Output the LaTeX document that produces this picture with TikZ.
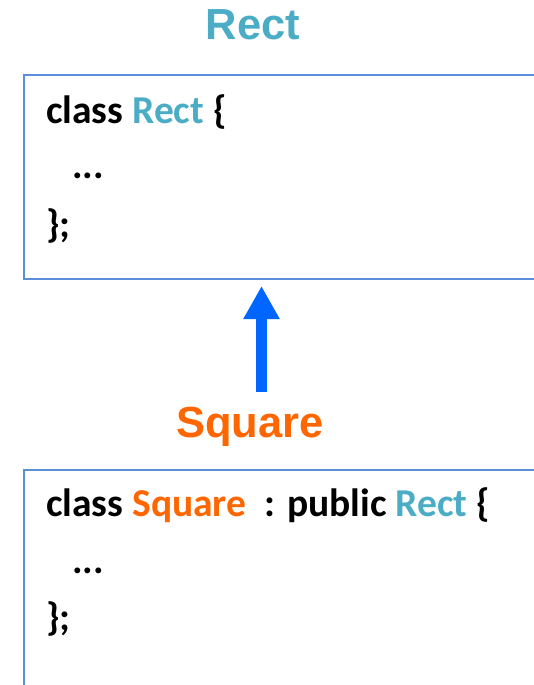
\documentclass[tikz,border=0pt]{standalone}
\usepackage{fontspec}
\setmainfont{Carlito}
\newfontfamily\headfont{Liberation Sans}
\usetikzlibrary{arrows.meta}
\definecolor{recttxt}{HTML}{4BACC6}
\definecolor{sqtxt}{HTML}{FF6600}
\definecolor{arrowblue}{HTML}{0066FF}
\definecolor{boxline}{HTML}{5B8FD9}
\begin{document}
\begin{tikzpicture}[x=1pt,y=1pt,
  codebox/.style={minimum width=560pt, anchor=north west, inner sep=0pt, outer sep=0pt},
  boxedge/.style={draw=boxline, line width=2pt},
  codeline/.style={anchor=base west, inner sep=0pt, font=\fontsize{39.5}{41}\selectfont\bfseries},
  title/.style={anchor=base, inner sep=0pt, font=\headfont\fontsize{43.5}{45}\selectfont\bfseries},
  inherit/.style={draw=arrowblue, line width=11pt, -{Triangle[width=34pt,length=33pt]}}]
\useasboundingbox (0,0) rectangle (533,-685);
% titles
\node[title, text=recttxt] (recttitle) at (253,-40) {Rect};
\node[title, text=sqtxt] (sqtitle) at (250,-437) {Square};
% boxes (their right side lies beyond the picture)
\node[codebox, minimum height=204pt] (rectbox) at (24,-75) {};
\node[codebox, minimum height=240pt] (sqbox) at (24,-470) {};
\draw[boxedge] (rectbox.north east) -- (rectbox.north west) -- (rectbox.south west) -- (rectbox.south east);
\draw[boxedge] (sqbox.north east) -- (sqbox.north west) -- (sqbox.south west);
% code in Rect box
\node[codeline] (r1) at (46,-123) {class \textcolor{recttxt}{Rect} \{};
\node[codeline] (r2) at (72,-178) {...};
\node[codeline] (r3) at (46,-237) {\};};
% code in Square box
\node[codeline] (s1) at (46,-516) {class \textcolor{sqtxt}{Square}\ \ : public \textcolor{recttxt}{Rect} \{};
\node[codeline] (s2) at (72,-573) {...};
\node[codeline] (s3) at (46,-630) {\};};
% inheritance arrow
\coordinate (tail) at (261.5,-392);
\draw[inherit, shorten >=7pt] (tail) -- (tail |- rectbox.south);
\end{tikzpicture}
\end{document}
